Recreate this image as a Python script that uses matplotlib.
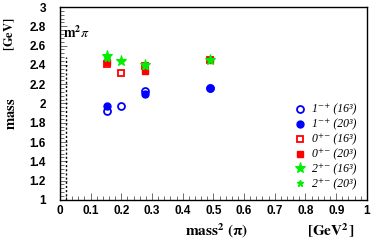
import matplotlib
matplotlib.use('Agg')
import matplotlib.pyplot as plt
from matplotlib.ticker import MultipleLocator

plt.rcParams['mathtext.fontset'] = 'stix'

# pion mass squared [GeV^2] for each lattice
x16 = [0.155, 0.2, 0.278, 0.49]
x20 = [0.155, 0.278, 0.49]

# masses [GeV]
m_1mp_16 = [1.92, 1.97, 2.13, 2.16]
m_1mp_20 = [1.97, 2.10, 2.16]
m_0pm_16 = [2.41, 2.32, 2.39, 2.45]
m_0pm_20 = [2.43, 2.34, 2.45]
m_2pm_16 = [2.49, 2.44, 2.40, 2.45]
m_2pm_20 = [2.47, 2.39, 2.45]

xticks = [0, 0.1, 0.2, 0.3, 0.4, 0.5, 0.6, 0.7, 0.8, 0.9, 1]
xtick_labels = ['0', '0.1', '0.2', '0.3', '0.4', '0.5', '0.6', '0.7', '0.8', '0.9', '1']
yticks = [1, 1.2, 1.4, 1.6, 1.8, 2, 2.2, 2.4, 2.6, 2.8, 3]
ytick_labels = ['1', '1.2', '1.4', '1.6', '1.8', '2', '2.2', '2.4', '2.6', '2.8', '3']

fig = plt.figure(figsize=(3.74, 2.42), dpi=100)
ax = fig.add_axes([0.160, 0.174, 0.821, 0.797])

blue = '#0000ff'
red = '#ff0000'
green = '#00ee00'

ax.plot(x16, m_1mp_16, 'o', ms=5, mfc='none', mec=blue, mew=1.3, ls='none',
        label='1\u207b\u207a (16\u00b3)')
ax.plot(x20, m_1mp_20, 'o', ms=5, color=blue, ls='none',
        label='1\u207b\u207a (20\u00b3)')
ax.plot(x16, m_0pm_16, 's', ms=5, mfc='none', mec=red, mew=1.3, ls='none',
        label='0\u207a\u207b (16\u00b3)')
ax.plot(x20, m_0pm_20, 's', ms=5, color=red, ls='none',
        label='0\u207a\u207b (20\u00b3)')
ax.plot(x16, m_2pm_16, '*', ms=8, mfc=green, mec=green, mew=0.8, ls='none',
        label='2\u207a\u207b (16\u00b3)')
ax.plot(x20, m_2pm_20, '*', ms=5, color=green, ls='none',
        label='2\u207a\u207b (20\u00b3)')

# physical pion mass marker
ax.plot([0.02, 0.02], [1.0, 2.48], ls=(0, (1.5, 1.5)), color='black', lw=1)
ax.text(0.01, 2.68, r'$\mathbf{m^2}\pi$', fontsize=10)

ax.set_xlim(0, 1)
ax.set_ylim(1, 3)
ax.set_xticks(xticks)
ax.set_xticklabels(xtick_labels)
ax.set_yticks(yticks)
ax.set_yticklabels(ytick_labels)
ax.xaxis.set_minor_locator(MultipleLocator(0.02))
ax.yaxis.set_minor_locator(MultipleLocator(0.04))
ax.tick_params(which='both', direction='in', top=False, right=False,
               width=0.6, color='#555555')
ax.tick_params(which='major', length=5)
ax.tick_params(which='minor', length=3)
for lab in ax.get_xticklabels() + ax.get_yticklabels():
    lab.set_fontfamily('Liberation Sans')
    lab.set_fontweight('bold')
    lab.set_fontsize(8.5)
ax.tick_params(axis='y', pad=10)
ax.tick_params(axis='x', pad=4)
for s in ax.spines.values():
    s.set_linewidth(1)

fig.text(0.58, 0.025, r'$\mathbf{mass^2\ (\pi)}$', fontsize=11, ha='center')
fig.text(0.885, 0.025, r'$\mathbf{[GeV^2]}$', fontsize=11, ha='center')
fig.text(0.027, 0.53, r'$\mathbf{mass}$', fontsize=10.5, rotation=90,
         va='center', ha='center')
fig.text(0.025, 0.86, r'$\mathbf{[GeV]}$', fontsize=9, rotation=90,
         va='center', ha='center')

leg = ax.legend(loc='upper left', bbox_to_anchor=(0.733, 0.535), frameon=False,
                prop={'family': ['Liberation Serif', 'DejaVu Serif'],
                      'style': 'italic', 'size': 8.5},
                labelspacing=0.25, handletextpad=0.4, handlelength=1.3,
                borderpad=0.1)

fig.savefig('out.png', dpi=100)
